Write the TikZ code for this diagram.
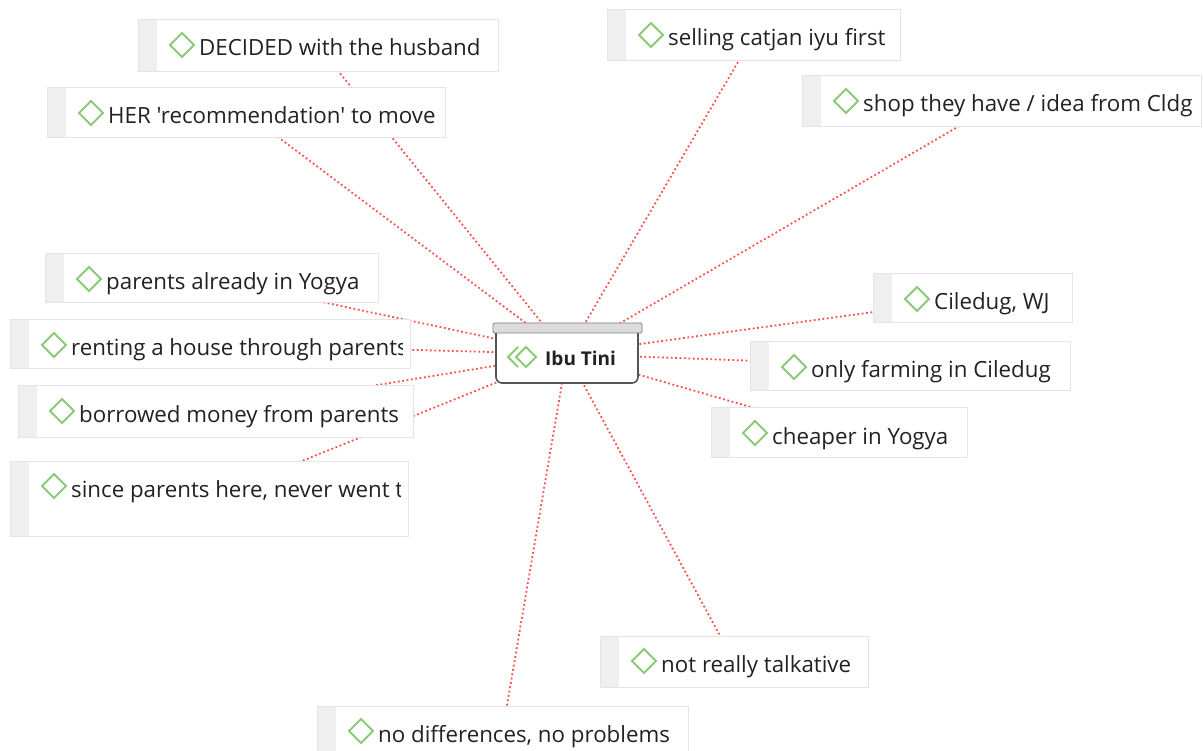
\documentclass[tikz,border=0pt]{standalone}
\usepackage{fontspec}
\setmainfont{Open Sans}[Ligatures=TeXOff]
\usetikzlibrary{backgrounds}

\definecolor{linkred}{HTML}{FF4D4D}
\definecolor{tagborder}{HTML}{E4E4E4}
\definecolor{tagstrip}{HTML}{EFEFEF}
\definecolor{codegreen}{HTML}{8CCB78}
\definecolor{inktext}{HTML}{222222}
\definecolor{hubborder}{HTML}{555555}
\definecolor{hubbar}{HTML}{DCDCDC}

\tikzset{
  link/.style={draw=linkred, line width=1.8pt, dash pattern=on 1.8pt off 2.6pt},
  tagbox/.style={draw=tagborder, line width=1pt, fill=white, rectangle, inner sep=0pt},
  tagtext/.style={anchor=base west, inner sep=0pt, text=inktext, font=\fontsize{22.3}{22.3}\selectfont},
  codemark/.style={draw=codegreen, line width=1.8pt, line join=miter},
  hubbox/.style={draw=hubborder, line width=1.6pt, fill=white, rounded corners=6pt, inner sep=0pt},
  hubtext/.style={anchor=west, inner sep=0pt, text=inktext, font=\fontsize{19}{19}\selectfont\bfseries},
}

% name, x0, y0, x1, y1, label
\newcommand\tagbox[6]{%
  \node[tagbox, minimum width={#4-#2}, minimum height={#5-#3}] (#1) at ({(#2+#4)/2},{(#3+#5)/2}) {};
  \fill[tagstrip] (#2+0.5,#3+0.5) rectangle (#2+19,#5-0.5);
  \draw[codemark] (#2+44,#3+13) -- (#2+56,#3+25) -- (#2+44,#3+37) -- (#2+32,#3+25) -- cycle;
  \begin{scope}
    \clip (#2,#3) rectangle (#4-8,#5);
    \node[tagtext] (#1-label) at (#2+61,#3+36) {#6};
  \end{scope}
}

\begin{document}
\begin{tikzpicture}[x=1pt, y=-1pt]
  \useasboundingbox (0,0) rectangle (1203,751);
  \clip (0,0) rectangle (1203,751);

  % central code
  \node[hubbox, minimum width=142, minimum height=58] (hub) at (567,354) {};
  \fill[hubbar, draw=gray, line width=0.8pt, rounded corners=1.5pt] (493,323) rectangle (642,333);
  \draw[codemark, line width=2pt] (518,347) -- (508,357) -- (518,367);
  \draw[codemark, line width=2pt] (526,347) -- (536,357) -- (526,367) -- (516,357) -- cycle;
  \node[hubtext] (hub-label) at (545,358) {Ibu Tini};

  % linked quotations
  \tagbox{decided}{138}{20}{498}{72}{DECIDED with the husband}
  \tagbox{recommend}{47}{88}{445}{138}{HER 'recommendation' to move}
  \tagbox{selling}{607}{10}{900}{61}{selling catjan iyu first}
  \tagbox{shop}{802}{76}{1201}{127}{shop they have / idea from Cldg}
  \tagbox{already}{45}{254}{378}{303}{parents already in Yogya}
  \tagbox{renting}{10}{320}{410}{369}{renting a house through parents}
  \tagbox{borrowed}{18}{386}{413}{437}{borrowed money from parents}
  \tagbox{since}{10}{461}{408}{536}{since parents here, never went to}
  \tagbox{ciledug}{873}{274}{1072}{323}{Ciledug, WJ}
  \tagbox{farming}{750}{342}{1070}{391}{only farming in Ciledug}
  \tagbox{cheaper}{711}{408}{967}{457}{cheaper in Yogya}
  \tagbox{talkative}{600}{636}{868}{687}{not really talkative}
  \tagbox{nodiff}{317}{706}{688}{757}{no differences, no problems}

  % links run underneath the boxes
  \begin{pgfonlayer}{background}
    \foreach \n in {decided,recommend,selling,shop,already,renting,borrowed,since,ciledug,farming,cheaper,talkative,nodiff}
      \draw[link] (\n.center) -- (hub.center);
  \end{pgfonlayer}
\end{tikzpicture}
\end{document}
